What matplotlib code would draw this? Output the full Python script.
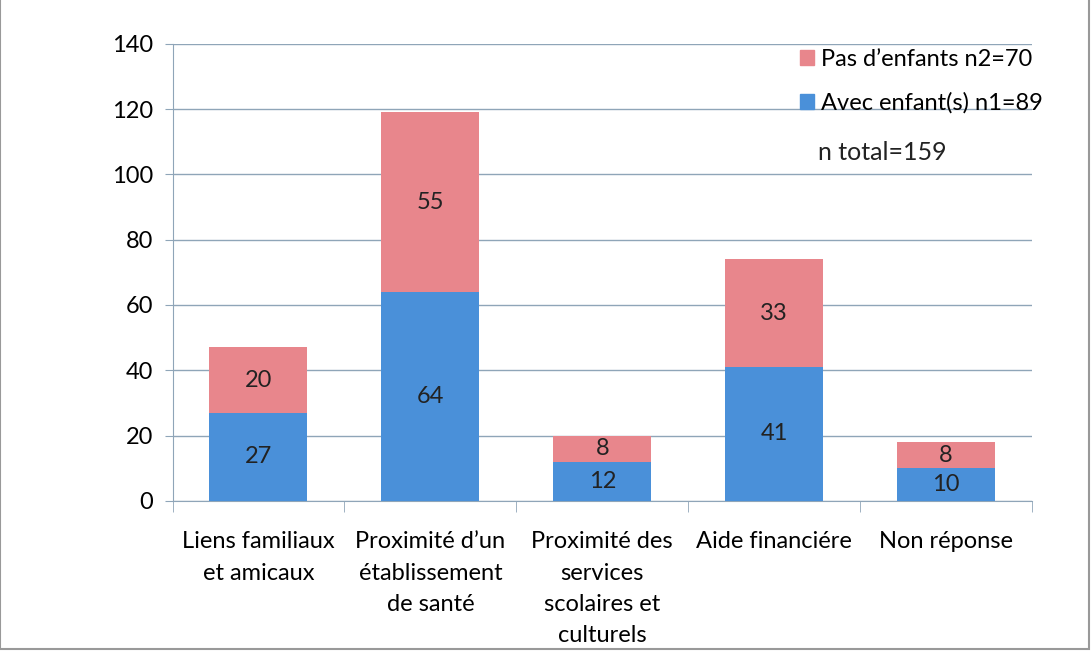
import matplotlib.pyplot as plt
from matplotlib.patches import Patch, Rectangle
import numpy as np

plt.rcParams['font.family'] = ['Lato', 'DejaVu Sans']

categories = ["Liens familiaux\net amicaux",
              "Proximité d\u2019un\nétablissement\nde santé",
              "Proximité des\nservices\nscolaires et\nculturels",
              "Aide financiére",
              "Non réponse"]
avec_enfants = [27, 64, 12, 41, 10]
pas_enfants = [20, 55, 8, 33, 8]
yticks = [0, 20, 40, 60, 80, 100, 120, 140]

blue = "#4a90d9"
pink = "#e8868c"
axcol = "#8fa5b8"

fig = plt.figure(figsize=(10.92, 6.53), dpi=100)
ax = fig.add_axes([0.158, 0.233, 0.787, 0.70])

x = np.arange(len(categories))
ax.bar(x, avec_enfants, width=0.57, color=blue, zorder=3)
ax.bar(x, pas_enfants, width=0.57, bottom=avec_enfants, color=pink, zorder=3)

# value labels in the middle of each segment
for xi, a, p in zip(x, avec_enfants, pas_enfants):
    ax.text(xi, a / 2, str(a), ha="center", va="center", fontsize=17, color="#222222", zorder=4)
    ax.text(xi, a + p / 2, str(p), ha="center", va="center", fontsize=17, color="#222222", zorder=4)

ax.set_xlim(-0.5, len(categories) - 0.5)
ax.set_ylim(0, 140)
ax.set_yticks(yticks)
ax.tick_params(axis="y", labelsize=17, length=6, color=axcol, pad=8)
ax.yaxis.grid(True, color=axcol, linewidth=1, zorder=0)

ax.set_xticks(x)
ax.set_xticklabels(categories, fontsize=17, va="top", linespacing=1.6)
ax.tick_params(axis="x", length=0, pad=22)
ax.set_xticks(np.arange(len(categories) + 1) - 0.5, minor=True)
ax.tick_params(axis="x", which="minor", length=8, color=axcol)

for s in ["top", "right"]:
    ax.spines[s].set_visible(False)
ax.spines["left"].set_color(axcol)
ax.spines["bottom"].set_color(axcol)

handles = [Patch(color=pink), Patch(color=blue)]
labels = ["Pas d\u2019enfants n2=70", "Avec enfant(s) n1=89"]
ax.legend(handles, labels, loc="upper left", bbox_to_anchor=(0.705, 1.035), frameon=False,
          fontsize=17, handlelength=0.6, handleheight=0.6, handletextpad=0.3, labelspacing=0.95)
fig.text(0.749, 0.755, "n total=159", fontsize=18, color="#222222")

fig.patches.append(Rectangle((0.0, 0.006), 0.997, 1.2, transform=fig.transFigure,
                             fill=False, edgecolor="#999999", linewidth=1.5))

fig.savefig("out.png", dpi=100)
